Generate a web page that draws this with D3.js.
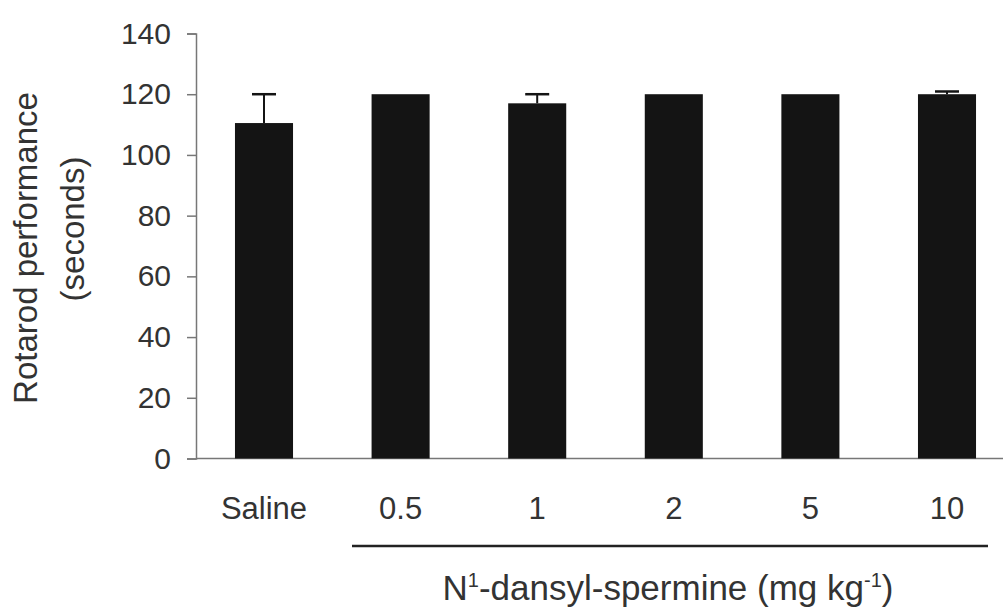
<!DOCTYPE html>
<html>
<head>
<meta charset="utf-8">
<script src="https://cdn.jsdelivr.net/npm/d3@7"></script>
<style>
  body { margin: 0; background: #fff; }
  text { font-family: "Liberation Sans", Arial, sans-serif; fill: #333; }
</style>
</head>
<body>
<script>
let categories = ["Saline", "0.5", "1", "2", "5", "10"];
let means = [110.5, 120, 117, 120, 120, 120];
let sems = [9.5, 0, 3, 0, 0, 0.9];
let yTicks = [0, 20, 40, 60, 80, 100, 120, 140];

let w = 1007, h = 614;
let svg = d3.select("body").append("svg").attr("width", w).attr("height", h);

let x = d3.scaleBand().domain(categories)
  .range([195.7, 1015.3]).paddingInner(0.575).paddingOuter(0.2875);
let y = d3.scaleLinear().domain([0, 140]).range([458.5, 33.5]);

// y axis
let yAxis = svg.append("g").attr("transform", "translate(196,0)")
  .call(d3.axisLeft(y).tickValues(yTicks).tickSize(9).tickPadding(16));
yAxis.select(".domain").attr("stroke", "#777").attr("stroke-width", 1.5);
yAxis.selectAll(".tick line").attr("stroke", "#777").attr("stroke-width", 1.5);
yAxis.selectAll(".tick text").attr("font-size", 30).attr("fill", "#333")
  .attr("font-family", "Liberation Sans, Arial, sans-serif");

// baseline
svg.append("line").attr("x1", 196).attr("x2", 1003)
  .attr("y1", y(0)).attr("y2", y(0))
  .attr("stroke", "#777").attr("stroke-width", 1.5);

// bars
svg.selectAll("rect.bar").data(categories).enter().append("rect")
  .attr("class", "bar")
  .attr("x", d => x(d))
  .attr("width", x.bandwidth())
  .attr("y", (d, i) => y(means[i]))
  .attr("height", (d, i) => y(0) - y(means[i]))
  .attr("fill", "#141414");

// error bars
let eb = svg.selectAll("g.err").data(categories.filter((d, i) => sems[i] > 0))
  .enter().append("g").attr("class", "err");
eb.append("line")
  .attr("x1", d => x(d) + x.bandwidth() / 2).attr("x2", d => x(d) + x.bandwidth() / 2)
  .attr("y1", d => y(means[categories.indexOf(d)]))
  .attr("y2", d => { let i = categories.indexOf(d); return y(means[i] + sems[i]); })
  .attr("stroke", "#141414").attr("stroke-width", 2);
eb.append("line")
  .attr("x1", d => x(d) + x.bandwidth() / 2 - 12).attr("x2", d => x(d) + x.bandwidth() / 2 + 12)
  .attr("y1", d => { let i = categories.indexOf(d); return y(means[i] + sems[i]); })
  .attr("y2", d => { let i = categories.indexOf(d); return y(means[i] + sems[i]); })
  .attr("stroke", "#141414").attr("stroke-width", 2.5);

// category labels
svg.selectAll("text.cat").data(categories).enter().append("text")
  .attr("class", "cat")
  .attr("x", d => x(d) + x.bandwidth() / 2)
  .attr("y", 519)
  .attr("text-anchor", "middle")
  .attr("font-size", 31)
  .text(d => d);

// bracket under dose groups
svg.append("line")
  .attr("x1", 352).attr("x2", 988).attr("y1", 546).attr("y2", 546)
  .attr("stroke", "#222").attr("stroke-width", 2.5);

// x title
let xt = svg.append("text").attr("x", 668).attr("y", 600)
  .attr("text-anchor", "middle").attr("font-size", 35);
xt.append("tspan").text("N");
xt.append("tspan").attr("font-size", 20).attr("dy", -13).text("1");
xt.append("tspan").attr("dy", 13).text("-dansyl-spermine (mg kg");
xt.append("tspan").attr("font-size", 20).attr("dy", -13).text("-1");
xt.append("tspan").attr("dy", 13).text(")");

// y title
svg.append("text").attr("transform", "translate(37,248) rotate(-90)")
  .attr("text-anchor", "middle").attr("font-size", 33).text("Rotarod performance");
svg.append("text").attr("transform", "translate(84,229) rotate(-90)")
  .attr("text-anchor", "middle").attr("font-size", 33).text("(seconds)");
</script>
</body>
</html>
